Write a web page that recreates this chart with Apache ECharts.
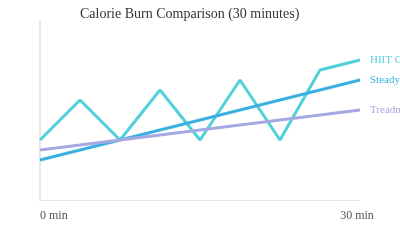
<!DOCTYPE html>
<html><head><meta charset="utf-8">
<script src="https://cdn.jsdelivr.net/npm/echarts@6/dist/echarts.min.js"></script>
<style>html,body{margin:0;padding:0;background:#fff}#c{width:400px;height:250px}</style>
</head><body><div id="c"></div>
<script>
var title = 'Calorie Burn Comparison (30 minutes)';
var seriesNames = ['HIIT Cycling', 'Steady State Cycling', 'Treadmill Walking'];
var hiitMinutes = [0, 3.75, 7.5, 11.25, 15, 18.75, 22.5, 26.25, 30];
var hiitValues = [60, 100, 60, 110, 60, 120, 60, 130, 140];
var steadyMinutes = [0, 30];
var steadyValues = [40, 120];
var treadMinutes = [0, 30];
var treadValues = [50, 90];
var colors = ['#4fd1d9', '#3bb1df', '#a6a8e2'];
function pairs(xs, ys){ return xs.map(function(x,i){ return [x, ys[i]]; }); }
var font = '"Liberation Serif", serif';
var chart = echarts.init(document.getElementById('c'), null, {renderer:'canvas'});
function mk(i, xs, ys){
  return {
    name: seriesNames[i], type:'line', data: pairs(xs, ys), showSymbol:false, symbol:'none',
    lineStyle:{width:3, color:colors[i]}, itemStyle:{color:colors[i]},
    endLabel:{show:true, formatter: seriesNames[i], color:colors[i], fontFamily:font, fontSize:11, distance:10},
    animation:false
  };
}
chart.setOption({
  animation:false,
  title:{text:title, left:75, top:2, textStyle:{fontFamily:font, fontSize:14, fontWeight:'normal', color:'#333'}},
  grid:{left:40, right:40, top:20, bottom:50},
  xAxis:{type:'value', min:0, max:30, interval:30,
    axisLine:{show:true, lineStyle:{color:'#e8e8e8', width:1}}, axisTick:{show:false}, splitLine:{show:false},
    axisLabel:{formatter:function(v){return v+' min';}, fontFamily:font, fontSize:12, color:'#555', margin:10, alignMinLabel:'left', alignMaxLabel:'center', padding:[0,6,0,0]}},
  yAxis:{type:'value', min:0, max:180, axisLine:{show:true, lineStyle:{color:'#e8e8e8', width:2}}, axisTick:{show:false}, axisLabel:{show:false}, splitLine:{show:false}},
  series:[mk(0, hiitMinutes, hiitValues), mk(1, steadyMinutes, steadyValues), mk(2, treadMinutes, treadValues)]
});
</script></body></html>
